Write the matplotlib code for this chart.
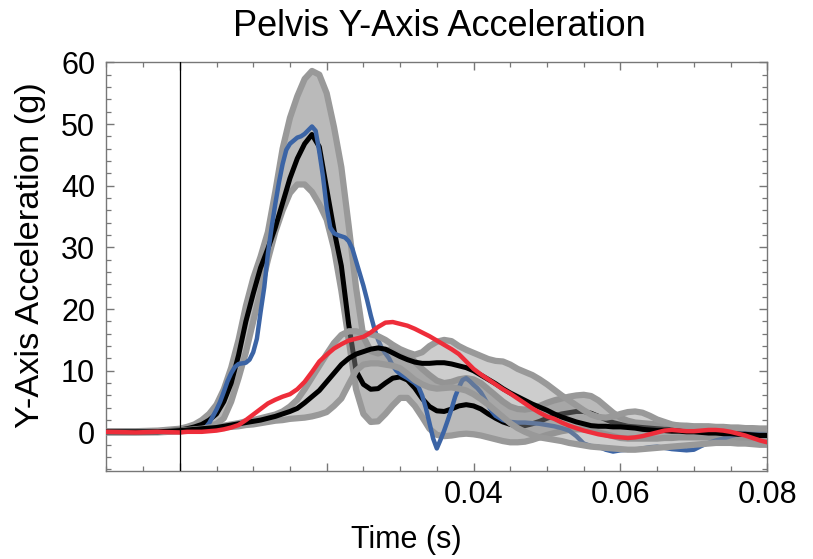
import numpy as np
import matplotlib
matplotlib.use("Agg")
import matplotlib.pyplot as plt
from matplotlib.ticker import MultipleLocator

plt.rcParams['font.family'] = ['Liberation Sans', 'DejaVu Sans']

# time grid for the corridors and the red test (ms)
t_ms = [-10, -6, -3] + list(range(0, 81))

# corridor 1 (big peak): mean, upper, lower
m1 = [0.1, 0.1, 0.2, 0.4,
      0.6, 0.9, 1.3, 2.0, 3.0, 5.0, 8.0, 12.5, 18.0, 22.5,
      26.7, 29.8, 33.2, 37.2, 41.2, 44.4, 46.8, 48.3, 46.3, 39.5,
      32.8, 27.0, 17.5, 10.0, 7.8, 7.0, 7.1, 8.0, 8.8, 9.0,
      8.5, 7.2, 5.5, 4.2, 3.5, 3.4, 3.8, 4.3, 4.5, 4.3,
      3.8, 3.0, 2.3, 1.7, 1.3, 1.1, 1.1, 1.4, 1.8, 2.3,
      2.7, 3.0, 3.2, 3.4, 3.4, 3.1, 2.6, 2.1, 1.6, 1.3,
      1.0, 0.9, 0.8, 0.7, 0.6, 0.5, 0.5, 0.4, 0.3, 0.3,
      0.2, 0.2, 0.1, 0.0, 0.0, -0.1, -0.2, -0.3, -0.4, -0.5]
u1 = [0.2, 0.2, 0.3, 0.6,
      0.9, 1.3, 2.0, 3.0, 4.5, 7.0, 10.5, 15.0, 20.5, 25.0,
      28.5, 32.5, 39.0, 46.0, 51.0, 54.5, 57.3, 58.6, 58.0, 55.0,
      49.5, 43.0, 33.5, 23.5, 15.5, 13.2, 12.8, 13.2, 13.6, 13.4,
      12.5, 11.5, 10.3, 9.3, 8.4, 8.0, 8.2, 8.6, 8.8, 8.6,
      8.0, 7.0, 6.0, 5.0, 4.2, 3.8, 3.7, 3.9, 4.3, 4.8,
      5.2, 5.5, 5.8, 6.0, 6.1, 5.9, 5.2, 4.2, 3.2, 2.4,
      1.9, 1.6, 1.5, 1.4, 1.3, 1.2, 1.2, 1.1, 1.1, 1.0,
      1.0, 1.0, 0.9, 0.9, 0.8, 0.8, 0.7, 0.7, 0.6, 0.6]
l1 = [0.0, 0.0, 0.1, 0.2,
      0.3, 0.5, 0.7, 1.0, 1.4, 2.3, 5.0, 8.8, 13.0, 18.0,
      23.0, 28.0, 32.5, 36.0, 38.8, 40.2, 40.2, 39.0, 37.0, 34.5,
      29.8, 23.0, 15.0, 7.0, 3.0, 1.7, 1.8, 3.0, 4.4, 5.6,
      5.6, 4.3, 2.5, 0.6, -0.4, -0.6, -0.5, -0.3, -0.2, -0.3,
      -0.5, -0.8, -1.1, -1.4, -1.6, -1.6, -1.5, -1.2, -0.8, -0.4,
      -0.1, 0.2, 0.4, 0.5, 0.5, 0.3, 0.0, -0.3, -0.6, -0.9,
      -1.0, -1.0, -1.0, -1.0, -1.0, -0.9, -0.9, -0.8, -0.8, -0.8,
      -0.8, -0.8, -0.8, -0.8, -0.8, -0.9, -0.9, -1.0, -1.0, -1.1]

# corridor 2 (later, lower peak)
m2 = [0.1, 0.1, 0.1, 0.3,
      0.4, 0.5, 0.6, 0.7, 0.8, 1.0, 1.2, 1.4, 1.6, 1.8,
      2.0, 2.3, 2.6, 3.0, 3.4, 3.9, 4.8, 5.8, 6.8, 8.2,
      9.6, 11.0, 12.0, 12.7, 13.1, 13.5, 13.7, 13.5, 12.9, 12.3,
      11.8, 11.4, 11.2, 11.2, 11.3, 11.3, 11.1, 10.8, 10.5, 10.0,
      9.3, 8.6, 7.9, 7.1, 6.4, 5.8, 5.2, 4.6, 4.1, 3.6,
      3.0, 2.5, 2.1, 1.7, 1.4, 1.1, 1.0, 1.0, 0.9, 0.9,
      0.8, 0.7, 0.5, 0.4, 0.3, 0.3, 0.2, 0.2, 0.1, 0.1,
      0.0, -0.1, -0.1, -0.2, -0.2, -0.3, -0.3, -0.4, -0.5, -0.5]
u2 = [0.1, 0.1, 0.2, 0.3,
      0.4, 0.5, 0.6, 0.8, 0.9, 1.1, 1.3, 1.5, 1.8, 2.0,
      2.3, 2.6, 2.9, 3.4, 4.2, 5.3, 7.0, 8.9, 10.8, 12.7,
      14.5, 15.8, 16.4, 16.4, 16.1, 15.9, 15.6, 15.0, 14.2, 13.5,
      13.0, 12.6, 13.0, 14.0, 14.7, 15.0, 14.8, 14.0, 13.4, 12.9,
      12.4, 11.9, 11.6, 11.5, 11.0, 10.3, 9.8, 9.3, 8.6, 7.8,
      6.9, 6.0, 5.2, 4.4, 3.6, 2.9, 2.5, 2.4, 2.6, 3.0,
      3.3, 3.4, 3.2, 2.7, 2.1, 1.7, 1.3, 1.1, 1.0, 0.9,
      0.9, 0.8, 0.8, 0.8, 0.7, 0.7, 0.7, 0.6, 0.6, 0.6]
l2 = [0.0, 0.0, 0.0, 0.2,
      0.3, 0.4, 0.5, 0.6, 0.7, 0.8, 0.9, 1.0, 1.2, 1.3,
      1.5, 1.7, 1.9, 2.0, 2.2, 2.3, 2.4, 2.6, 2.9, 3.3,
      4.3, 5.5, 7.8, 10.0, 11.0, 11.2, 11.2, 11.0, 10.8, 10.4,
      9.5, 8.5, 7.8, 7.3, 7.1, 7.2, 7.3, 7.1, 6.8, 6.2,
      5.4, 4.5, 3.5, 2.5, 1.5, 0.7, 0.1, -0.4, -0.8, -1.0,
      -1.2, -1.4, -1.7, -1.9, -2.1, -2.3, -2.4, -2.5, -2.6, -2.7,
      -2.8, -2.8, -2.7, -2.6, -2.5, -2.4, -2.3, -2.2, -2.1, -2.0,
      -1.9, -1.8, -1.7, -1.7, -1.7, -1.8, -1.8, -1.9, -2.0, -2.0]

# red test
red = [0.1, 0.0, 0.1, 0.0,
       0.1, 0.1, 0.1, 0.2, 0.3, 0.5, 0.8, 1.2, 2.0, 2.9,
       3.8, 4.7, 5.3, 5.8, 6.2, 7.0, 8.2, 9.8, 11.5, 12.6,
       13.6, 14.3, 14.9, 15.2, 15.5, 16.2, 17.1, 17.8, 17.9, 17.6,
       17.3, 16.8, 16.2, 15.6, 14.9, 14.2, 13.5, 12.7, 11.5, 10.3,
       9.4, 8.6, 7.8, 7.0, 6.3, 5.5, 4.7, 3.9, 3.2, 2.6,
       2.2, 1.6, 1.1, 0.7, 0.3, 0.0, -0.3, -0.5, -0.7, -0.8,
       -0.9, -0.8, -0.6, -0.3, 0.0, 0.3, 0.4, 0.3, 0.2, 0.2,
       0.3, 0.4, 0.4, 0.3, 0.1, -0.2, -0.5, -0.9, -1.3, -1.6]

# blue test (own time grid, finer around the fast parts)
t_blue_ms = [-10, -6, -3, 0, 1, 2, 3, 3.5, 4, 4.5, 5, 5.5, 6, 6.5, 7, 7.5, 8, 8.5, 9, 9.5,
             10, 10.5, 11, 11.5, 12, 12.5, 13, 13.5, 14, 14.5, 15, 15.5, 16, 16.5, 17, 17.5,
             18, 18.5, 19, 19.5, 20, 20.5, 21, 21.5, 22, 22.5, 23, 23.5, 24, 24.5, 25, 25.5,
             26, 26.5, 27, 27.5, 28, 28.5, 29, 29.5, 30, 31, 32, 32.5, 33, 33.5, 34, 34.5,
             35, 35.5, 36, 36.5, 37, 37.5, 38, 38.5, 39, 39.5, 40, 40.5, 41, 41.5, 42, 42.5,
             43, 44, 45, 46, 47, 48, 49, 50, 51, 52, 53, 54, 55, 56, 57, 58, 59, 60,
             61, 62, 63, 64, 65, 66, 67, 68, 69, 70, 71, 72, 73, 74, 75, 76, 77, 78, 79, 80]
blue = [0.1, 0.0, 0.1, 0.1, 0.1, 0.2, 0.4, 0.8, 1.5, 2.6, 3.7, 5.0, 6.6, 8.3, 9.6, 10.6, 11.1, 11.2, 11.3, 11.8,
        13.0, 15.2, 19.5, 23.5, 29.0, 33.2, 37.0, 40.5, 43.5, 45.8, 46.8, 47.3, 47.8, 48.0, 48.4, 49.0,
        49.6, 48.9, 45.5, 41.5, 36.5, 33.2, 32.3, 32.0, 31.8, 31.6, 31.0, 29.8, 27.8, 25.8, 23.8, 21.5,
        19.0, 16.8, 15.0, 13.7, 12.8, 12.0, 10.8, 10.0, 9.5, 8.8, 8.0, 7.4, 6.0, 4.0, 1.5, -1.0,
        -2.6, -1.2, 0.3, 2.0, 3.8, 5.8, 7.3, 8.5, 8.8, 8.3, 7.7, 7.2, 6.5, 5.5, 4.4, 3.4,
        2.7, 2.0, 1.7, 1.6, 1.6, 1.5, 1.4, 1.2, 1.0, 0.7, 0.3, -0.6, -1.8, -2.2, -2.3, -2.8, -3.1, -2.9,
        -2.8, -2.8, -2.6, -2.4, -2.3, -2.5, -2.7, -2.8, -2.9, -2.8, -2.2, -1.7, -1.3, -1.0, -0.6, -0.3, 0.0, 0.2, 0.3, 0.4]

t = np.array(t_ms) / 1000.0
t_blue = np.array(t_blue_ms) / 1000.0

gray_line = '#999999'
fig = plt.figure(figsize=(8.13, 5.59), dpi=100)
ax = fig.add_axes([0.1308, 0.158, 0.8130, 0.7305])

# corridor 1 with its mean
ax.fill_between(t, l1, u1, color='#bababa', lw=0, zorder=1)
ax.plot(t, u1, color=gray_line, lw=4.5, zorder=2, solid_capstyle='round')
ax.plot(t, l1, color=gray_line, lw=4.5, zorder=2, solid_capstyle='round')
ax.plot(t, m1, color='black', lw=3.6, zorder=3)

# blue test sits under the second corridor
ax.plot(t_blue, blue, color='#3b64a5', lw=3.2, zorder=4)

# corridor 2 with its mean
ax.fill_between(t, l2, u2, color='#909090', alpha=0.45, lw=0, zorder=5)
ax.plot(t, u2, color=gray_line, lw=4.5, zorder=6, solid_capstyle='round')
ax.plot(t, l2, color=gray_line, lw=4.5, zorder=6, solid_capstyle='round')
ax.plot(t, m2, color='black', lw=3.6, zorder=7)

# red test on top
ax.plot(t, red, color='#ee2d3a', lw=3.2, zorder=8)

# vertical axis line at t = 0
ax.axvline(0, color='black', lw=0.9, zorder=9)

ax.set_xlim(-0.01, 0.08)
ax.set_ylim(-6.2, 60)

ax.set_xticks([0, 0.02, 0.04, 0.06, 0.08])
ax.set_xticklabels(['', '', '0.04', '0.06', '0.08'])
ax.xaxis.set_minor_locator(MultipleLocator(0.005))
ax.yaxis.set_minor_locator(MultipleLocator(2))
ax.set_yticks([0, 10, 20, 30, 40, 50, 60])

for side in ax.spines.values():
    side.set_color('#777777')
    side.set_linewidth(1.0)
ax.tick_params(which='both', direction='in', top=True, right=True, color='#777777',
               labelsize=22, labelcolor='black')
ax.tick_params(which='major', length=6, width=1.0)
ax.tick_params(which='minor', length=3.5, width=0.9)
ax.tick_params(axis='x', pad=7)
ax.tick_params(axis='y', pad=8)

fig.text(0.5406, 1 - 36 / 559, 'Pelvis Y-Axis Acceleration', ha='center', va='baseline', fontsize=26)
fig.text(406 / 813, 1 - 548 / 559, 'Time (s)', ha='center', va='baseline', fontsize=22)
fig.text(31 / 813, 1 - 255 / 559, 'Y-Axis Acceleration (g)', ha='center', va='center',
         rotation=90, fontsize=24.8)

fig.savefig('out.png', dpi=100)
